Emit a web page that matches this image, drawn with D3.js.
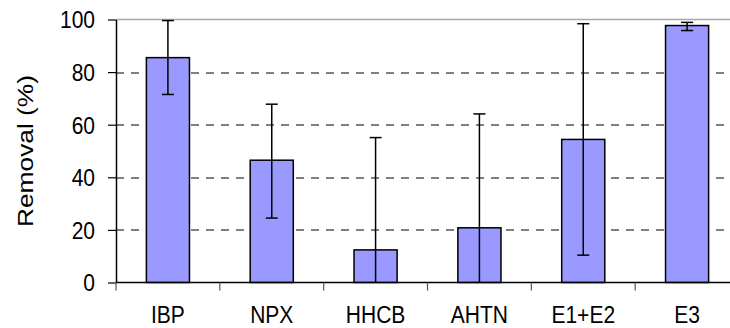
<!DOCTYPE html>
<html>
<head>
<meta charset="utf-8">
<script src="https://cdn.jsdelivr.net/npm/d3@7"></script>
<style>
  html, body { margin: 0; padding: 0; background: #fff; }
  svg { display: block; font-family: "Liberation Sans", Arial, sans-serif; }
</style>
</head>
<body>
<div id="chart"></div>
<script>
// data
const compounds = ["IBP", "NPX", "HHCB", "AHTN", "E1+E2", "E3"];
const removal = [85.5, 46.5, 12.4, 20.8, 54.4, 97.7];
const errUpper = [99.6, 67.8, 55.1, 64.1, 98.4, 98.9];
const errLower = [71.5, 24.5, 0, 0, 10.4, 95.8];
const yTicks = [0, 20, 40, 60, 80, 100];

const width = 730, height = 328;
const margin = { top: 19.5, left: 116, bottom: 45.5 };
const plotW = 623; // the frame runs off the right edge of the picture
const plotH = height - margin.top - margin.bottom;
const fontSize = 21;
const stretch = 1.17; // text in the reference is taller than it is wide

const svg = d3.select("#chart").append("svg")
  .attr("width", width)
  .attr("height", height);

const g = svg.append("g")
  .attr("transform", `translate(${margin.left},${margin.top})`);

const x = d3.scaleBand()
  .domain(compounds)
  .range([0, plotW])
  .paddingInner(0.585)
  .paddingOuter(0.2925);

const y = d3.scaleLinear()
  .domain([0, 100])
  .range([plotH, 0]);

// dashed gridlines
g.selectAll(".grid")
  .data(yTicks.filter(d => d > 0 && d < 100))
  .enter()
  .append("line")
  .attr("x1", 0)
  .attr("x2", plotW)
  .attr("y1", d => Math.round(y(d)) + 0.5)
  .attr("y2", d => Math.round(y(d)) + 0.5)
  .attr("stroke", "#000")
  .attr("stroke-width", 1)
  .attr("stroke-dasharray", "8,7");

// top border (grey)
g.append("line")
  .attr("x1", 0).attr("x2", plotW)
  .attr("y1", y(100)).attr("y2", y(100))
  .attr("stroke", "#a8a8a8")
  .attr("stroke-width", 1.5);

// bars
g.selectAll(".bar")
  .data(compounds)
  .enter()
  .append("rect")
  .attr("x", d => x(d))
  .attr("y", (d, i) => y(removal[i]))
  .attr("width", x.bandwidth())
  .attr("height", (d, i) => y(0) - y(removal[i]))
  .attr("fill", "#9999ff")
  .attr("stroke", "#000")
  .attr("stroke-width", 1.5);

// error bars
const capW = 12;
const eb = g.selectAll(".err")
  .data(compounds)
  .enter()
  .append("g")
  .attr("transform", d => `translate(${x(d) + x.bandwidth() / 2},0)`);

eb.append("line")
  .attr("y1", (d, i) => y(errUpper[i]))
  .attr("y2", (d, i) => y(errLower[i]))
  .attr("stroke", "#000")
  .attr("stroke-width", 1.5);

eb.append("line")
  .attr("x1", -capW / 2).attr("x2", capW / 2)
  .attr("y1", (d, i) => y(errUpper[i]))
  .attr("y2", (d, i) => y(errUpper[i]))
  .attr("stroke", "#000")
  .attr("stroke-width", 1.5);

eb.filter((d, i) => errLower[i] > 0)
  .append("line")
  .attr("x1", -capW / 2).attr("x2", capW / 2)
  .attr("y1", d => y(errLower[compounds.indexOf(d)]))
  .attr("y2", d => y(errLower[compounds.indexOf(d)]))
  .attr("stroke", "#000")
  .attr("stroke-width", 1.5);

// y axis
const yAxis = g.append("g")
  .call(d3.axisLeft(y).tickValues(yTicks).tickSize(8).tickSizeOuter(0).tickFormat(() => ""));
yAxis.select(".domain").attr("stroke", "#000").attr("stroke-width", 1.5);
yAxis.selectAll(".tick line").attr("stroke", "#000").attr("stroke-width", 1.2);

// y tick labels, stretched vertically like the reference
g.selectAll(".ylabel")
  .data(yTicks)
  .enter()
  .append("text")
  .attr("transform", d => `translate(-21,${y(d)}) scale(1,${stretch})`)
  .attr("dy", "0.36em")
  .attr("text-anchor", "end")
  .attr("font-size", fontSize)
  .attr("fill", "#000")
  .text(d => d);

// x axis: ticks sit between categories
const xAxis = g.append("g").attr("transform", `translate(0,${plotH})`);
xAxis.append("line")
  .attr("x1", 0).attr("x2", plotW)
  .attr("stroke", "#000")
  .attr("stroke-width", 1.5);

const boundaries = d3.range(compounds.length + 1).map(i => i * plotW / compounds.length);
xAxis.selectAll(".xtick")
  .data(boundaries)
  .enter()
  .append("line")
  .attr("x1", d => d).attr("x2", d => d)
  .attr("y1", 0).attr("y2", 8)
  .attr("stroke", "#555")
  .attr("stroke-width", 1.2);

xAxis.selectAll(".xlabel")
  .data(compounds)
  .enter()
  .append("text")
  .attr("transform", d => `translate(${x(d) + x.bandwidth() / 2},40) scale(1,${stretch})`)
  .attr("text-anchor", "middle")
  .attr("font-size", fontSize)
  .attr("fill", "#000")
  .text(d => d);

// y axis title
svg.append("text")
  .attr("transform", `translate(33,${margin.top + plotH / 2}) scale(1,${stretch}) rotate(-90)`)
  .attr("text-anchor", "middle")
  .attr("font-size", 22.5)
  .attr("fill", "#000")
  .text("Removal (%)");
</script>
</body>
</html>
